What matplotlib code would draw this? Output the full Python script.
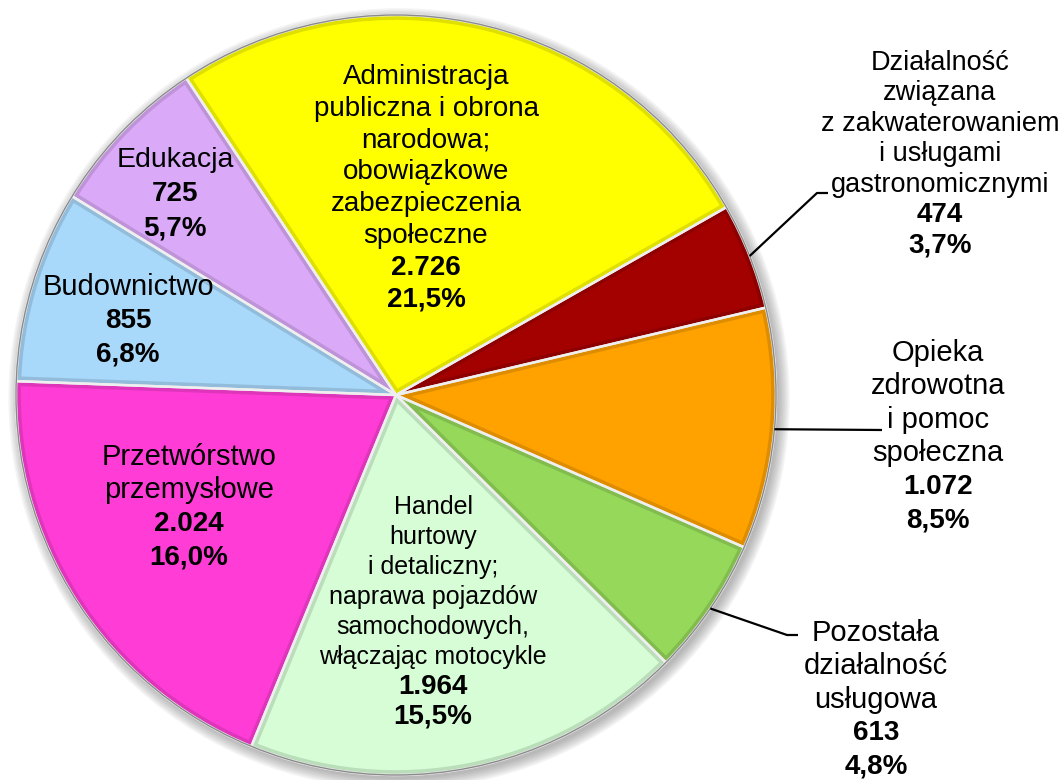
import numpy as np
import matplotlib
matplotlib.use("Agg")
import matplotlib.pyplot as plt
from matplotlib.patches import Circle, Wedge
from matplotlib.colors import to_rgb

# ---------------- data ----------------
categories = [
    "Administracja publiczna i obrona narodowa; obowiązkowe zabezpieczenia społeczne",
    "Działalność związana z zakwaterowaniem i usługami gastronomicznymi",
    "Opieka zdrowotna i pomoc społeczna",
    "Pozostała działalność usługowa",
    "Handel hurtowy i detaliczny; naprawa pojazdów samochodowych, włączając motocykle",
    "Przetwórstwo przemysłowe",
    "Budownictwo",
    "Edukacja",
]
values = [2726, 474, 1072, 613, 1964, 2024, 855, 725]
value_labels = ["2.726", "474", "1.072", "613", "1.964", "2.024", "855", "725"]
pct_labels = ["21,5%", "3,7%", "8,5%", "4,8%", "15,5%", "16,0%", "6,8%", "5,7%"]
name_lines = [
    ["Administracja", "publiczna i obrona", "narodowa;", "obowiązkowe",
     "zabezpieczenia", "społeczne"],
    ["Działalność", "związana", "z zakwaterowaniem", "i usługami", "gastronomicznymi"],
    ["Opieka", "zdrowotna", "i pomoc", "społeczna"],
    ["Pozostała", "działalność", "usługowa"],
    ["Handel", "hurtowy", "i detaliczny;", "naprawa pojazdów", "samochodowych,",
     "włączając motocykle"],
    ["Przetwórstwo", "przemysłowe"],
    ["Budownictwo"],
    ["Edukacja"],
]
colors = ["#FFFF00", "#A30000", "#FFA200", "#96D85A", "#D6FDD6",
          "#FF3DD6", "#A8D8FA", "#DAA9F8"]

# ---------------- layout (pixels) ----------------
W, H = 1062, 780
CX, CY, R = 396, 395, 380
START = 123.5
# label: (center x, first line center y, line spacing, name font size, number font size)
label_layout = [
    (426, 77, 31.8, 20, 20),
    (940, 63, 30.4, 19.5, 20),
    (938, 353, 33.4, 21, 20),
    (876, 633, 33.5, 21, 20),
    (433, 507, 30.0, 18, 20),
    (189, 457, 33.5, 21, 20),
    (128, 287, 34.0, 21, 20),
    (175, 160, 34.0, 20.5, 20),
]
# leader lines: index -> list of pixel points after the pie edge point
leaders = {
    1: [(817, 193), (828, 193)],
    2: [(882, 430)],
    3: [(787, 635), (798, 635)],
}

def px(x, y):
    return (x - CX) / R, (CY - y) / R

def darker(c, f=0.72):
    r, g, b = to_rgb(c)
    return (r * f, g * f, b * f)

fig = plt.figure(figsize=(W / 100, H / 100), dpi=100)
ax = fig.add_axes([0, 0, 1, 1])
FONT = ["Liberation Sans", "DejaVu Sans"]

# soft shadow
for i in range(8):
    ax.add_patch(Circle((0.008, -0.010), 1.0 + i * 0.004, color="#505050",
                        alpha=0.06, lw=0, zorder=0))

wedges, _ = ax.pie(values, colors=colors, startangle=START, counterclock=False,
                   radius=1.0, center=(0, 0),
                   wedgeprops=dict(edgecolor="none", linewidth=0))
for w, c in zip(wedges, colors):
    w.set_zorder(2)
    bev = Wedge(w.center, w.r, w.theta1, w.theta2, facecolor="none",
                edgecolor=darker(c), lw=7, alpha=0.45, zorder=2.5)
    ax.add_patch(bev)
    bev.set_clip_path(w)
    sep = Wedge(w.center, w.r, w.theta1, w.theta2, facecolor="none",
                edgecolor="#EFEFEF", lw=1.8, zorder=2.8)
    ax.add_patch(sep)
ax.add_patch(Circle((0, 0), 1.0, fill=False, edgecolor="#8A8A8A", lw=1.0, zorder=3))

ax.set_xlim(-CX / R, (W - CX) / R)
ax.set_ylim((CY - H) / R, CY / R)
ax.set_aspect("auto")
ax.axis("off")

total = float(sum(values))
cum = np.cumsum([0] + values[:-1])
for i, pts in leaders.items():
    mid = np.deg2rad(START - (cum[i] + values[i] / 2) / total * 360)
    xs = [np.cos(mid)] + [px(*p)[0] for p in pts]
    ys = [np.sin(mid)] + [px(*p)[1] for p in pts]
    ax.plot(xs, ys, color="black", lw=1.6, zorder=4, solid_capstyle="butt")

for i in range(len(values)):
    x0, y0, dy, fs, fsn = label_layout[i]
    lines = name_lines[i] + [value_labels[i], pct_labels[i]]
    nn = len(name_lines[i])
    for j, line in enumerate(lines):
        xx, yy = px(x0, y0 + j * dy)
        bold = j >= nn
        ax.text(xx, yy, line, ha="center", va="center",
                fontsize=fsn if bold else fs, family=FONT,
                fontweight="bold" if bold else "normal",
                color="black", zorder=5)

fig.savefig("out.png", dpi=100)
